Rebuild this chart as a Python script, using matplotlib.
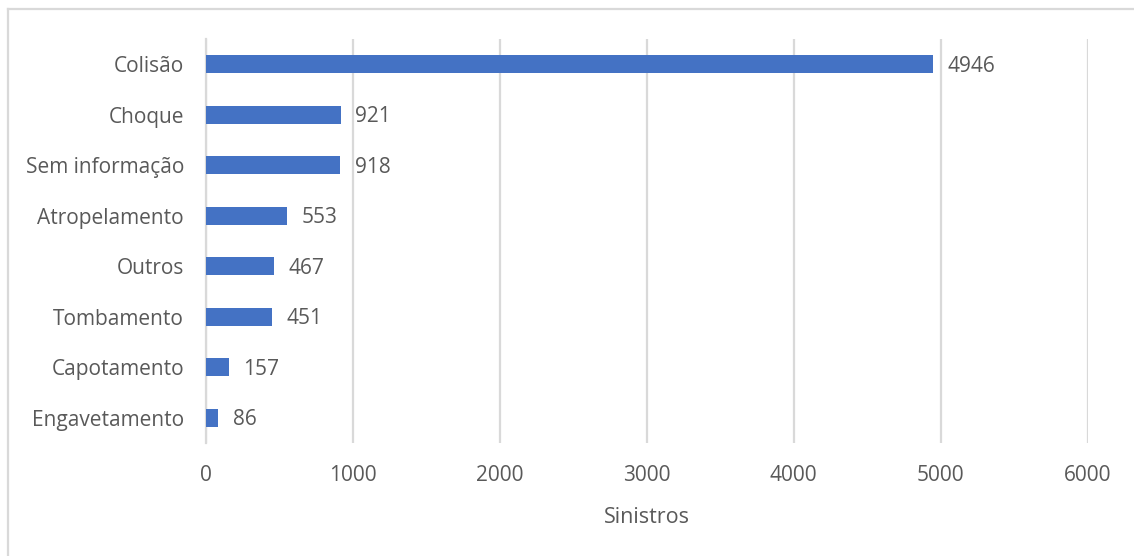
import matplotlib
matplotlib.use("Agg")
import matplotlib.pyplot as plt
from matplotlib.lines import Line2D

categories = ["Colisão", "Choque", "Sem informação", "Atropelamento",
              "Outros", "Tombamento", "Capotamento", "Engavetamento"]
values = [4946, 921, 918, 553, 467, 451, 157, 86]
x_ticks = [0, 1000, 2000, 3000, 4000, 5000, 6000]
x_label = "Sinistros"

BAR = "#4472C4"
TEXT = "#595959"
GRID = "#D9D9D9"

plt.rcParams["font.family"] = ["Open Sans", "DejaVu Sans"]

W, H = 1134, 556
fig = plt.figure(figsize=(W / 100, H / 100), dpi=100)
ax = fig.add_axes([205.5 / W, 1 - 443 / H, (1087.5 - 205.5) / W, (443 - 39) / H])

pos = list(range(len(categories)))
ax.barh(pos, values, height=0.35, color=BAR, zorder=3)
ax.set_ylim(len(categories) - 0.5, -0.5)
ax.set_xlim(0, 6000)
ax.set_yticks(pos)
ax.set_yticklabels(categories, fontsize=15, color=TEXT)
ax.set_xticks(x_ticks)
ax.set_xticklabels([str(t) for t in x_ticks], fontsize=15, color=TEXT)
ax.tick_params(axis="both", length=0)
ax.tick_params(axis="y", pad=15.5)
ax.tick_params(axis="x", pad=16)
ax.set_xlabel(x_label, fontsize=15.5, color=TEXT, labelpad=15)

ax.grid(axis="x", color=GRID, linewidth=1.6, zorder=0)
for side in ("top", "right", "bottom"):
    ax.spines[side].set_visible(False)
ax.spines["left"].set_color(GRID)
ax.spines["left"].set_linewidth(1.6)
ax.spines["left"].set_zorder(1)

for p, v in zip(pos, values):
    ax.annotate(str(v), xy=(v, p), xytext=(10.5, -1.5), textcoords="offset points",
                va="center", ha="left", fontsize=15, color=TEXT)

# chart frame (left and top edges)
fig.add_artist(Line2D([7.5 / W, 7.5 / W], [0, 1 - 9 / H], transform=fig.transFigure,
                      color=GRID, linewidth=1.6))
fig.add_artist(Line2D([7.5 / W, 1], [1 - 9 / H, 1 - 9 / H], transform=fig.transFigure,
                      color=GRID, linewidth=1.6))

fig.savefig("out.png", dpi=100, facecolor="white")
